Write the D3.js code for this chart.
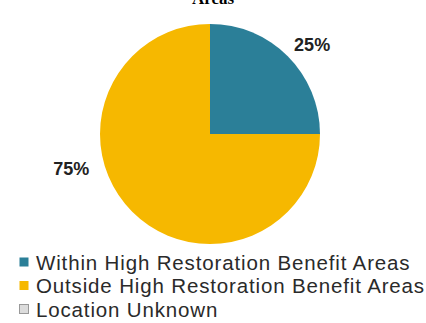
<!DOCTYPE html>
<html>
<head>
<meta charset="utf-8">
<script src="https://cdn.jsdelivr.net/npm/d3@7"></script>
<style>
  html, body { margin: 0; padding: 0; background: #fff; }
  svg { display: block; }
</style>
</head>
<body>
<svg id="chart" width="426" height="323"></svg>
<script>
// Share of sites by location relative to high restoration benefit areas
const categories = ["Within High Restoration Benefit Areas", "Outside High Restoration Benefit Areas", "Location Unknown"];
const shares = [25, 75, 0];
const sliceLabels = ["25%", "75%", ""];
const colors = ["#2b7f98", "#f6b800", "#dcdcdc"];
const titleText = "Areas";

const svg = d3.select("#chart");
const cx = 210, cy = 134, r = 110;

// Title (second line of a wrapped heading)
svg.append("text")
  .attr("x", 213).attr("y", 4)
  .attr("text-anchor", "middle")
  .attr("font-family", "Liberation Serif, Times New Roman, serif")
  .attr("font-weight", "bold")
  .attr("font-size", 17)
  .attr("fill", "#000")
  .text(titleText);

const pie = d3.pie().sort(null).value(d => d.v);
const data = categories.map((c, i) => ({ c, v: shares[i], label: sliceLabels[i], color: colors[i] }));
const arcs = pie(data);
const arc = d3.arc().innerRadius(0).outerRadius(r);

const g = svg.append("g").attr("transform", `translate(${cx},${cy})`);
g.selectAll("path").data(arcs.filter(a => a.data.v > 0)).join("path")
  .attr("d", arc)
  .attr("fill", a => a.data.color);

// Outside labels: the small slice's label sits near its mid-angle,
// the large slice's label is pushed toward the pie's left side.
const labelPlacement = [
  { shift: 0.07, dist: 1.23 },
  { shift: 0.54, dist: 1.3 }
];
g.selectAll("text.pct").data(arcs.filter(a => a.data.v > 0)).join("text")
  .attr("class", "pct")
  .attr("transform", (a, i) => {
    const p = labelPlacement[i];
    const mid = (a.startAngle + a.endAngle) / 2 + p.shift;
    const x = Math.sin(mid) * r * p.dist;
    const y = -Math.cos(mid) * r * p.dist;
    return `translate(${x},${y})`;
  })
  .attr("text-anchor", "middle")
  .attr("dominant-baseline", "central")
  .attr("font-family", "Liberation Sans, Arial, sans-serif")
  .attr("font-weight", "bold")
  .attr("font-size", 18)
  .attr("fill", "#222")
  .text(a => a.data.label);

// Legend
const legend = svg.append("g").attr("transform", "translate(19,262)");
const row = legend.selectAll("g").data(data).join("g")
  .attr("transform", (d, i) => `translate(0,${i * 23.5})`);
row.append("rect")
  .attr("x", 0.5).attr("y", -4.5)
  .attr("width", 9).attr("height", 9)
  .attr("fill", d => d.color)
  .attr("stroke", (d, i) => i === 2 ? "#999" : "none")
  .attr("stroke-width", 1);
row.append("text")
  .attr("x", 17).attr("y", 0)
  .attr("dominant-baseline", "central")
  .attr("font-family", "Liberation Sans, Arial, sans-serif")
  .attr("font-size", 20.5)
  .attr("letter-spacing", 0.85)
  .attr("fill", "#2a2a2a")
  .text(d => d.c);
</script>
</body>
</html>
